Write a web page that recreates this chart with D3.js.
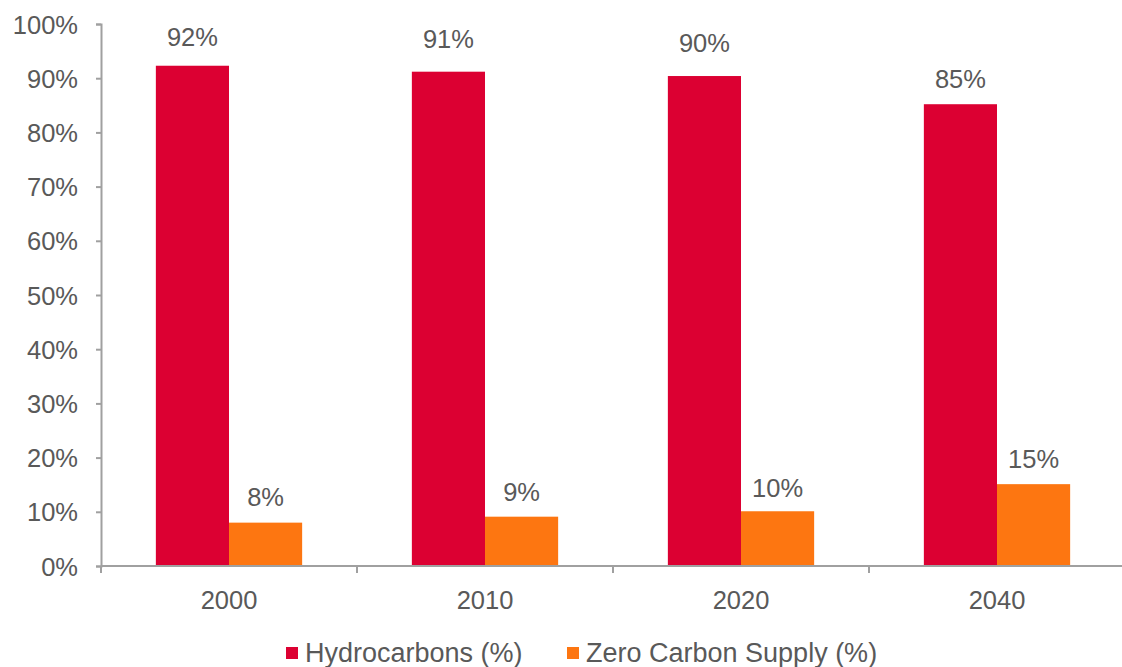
<!DOCTYPE html>
<html>
<head>
<meta charset="utf-8">
<script src="https://cdn.jsdelivr.net/npm/d3@7"></script>
<style>
  html, body { margin: 0; padding: 0; background: #fff; }
  svg { display: block; font-family: Arial, "Liberation Sans", sans-serif; }
</style>
</head>
<body>
<svg width="1122" height="667"></svg>
<script>
// chart data
const years = ['2000', '2010', '2020', '2040'];
const hydrocarbons = [92.3, 91.2, 90.4, 85.2];
const zeroCarbon = [8.0, 9.1, 10.1, 15.1];
const hydroLabels = ['92%', '91%', '90%', '85%'];
const zeroLabels = ['8%', '9%', '10%', '15%'];
const seriesNames = ['Hydrocarbons (%)', 'Zero Carbon Supply (%)'];
const yTicks = [0, 10, 20, 30, 40, 50, 60, 70, 80, 90, 100];

// layout / style
const colors = ['#dc0032', '#fd7611'];
const textColor = '#595959';
const axisColor = '#a0a0a0';
const fontSize = '25.5px';
const legendFont = '27px';
// gap between bar top and label baseline (labels were nudged by hand in the original)
const labelGap = [[20, 24, 24, 16], [17, 16, 14, 16]];

const svg = d3.select('svg');

const x = d3.scaleBand().domain(years).range([101, 1125]).paddingInner(0).paddingOuter(0);
const y = d3.scaleLinear().domain([0, 100]).range([566, 24]);
const inner = d3.scaleBand().domain([0, 1]).range([0, x.bandwidth()]).paddingOuter(0.75).paddingInner(0);

const series = [hydrocarbons, zeroCarbon];
const labels = [hydroLabels, zeroLabels];

// bars
series.forEach((vals, s) => {
  const g = svg.append('g');
  g.selectAll('rect')
    .data(years)
    .enter().append('rect')
      .attr('x', (d, i) => x(d) + inner(s))
      .attr('y', (d, i) => y(vals[i]))
      .attr('width', inner.bandwidth())
      .attr('height', (d, i) => y(0) - y(vals[i]))
      .attr('fill', colors[s]);

  g.selectAll('text')
    .data(years)
    .enter().append('text')
      .attr('x', (d, i) => x(d) + inner(s) + inner.bandwidth() / 2)
      .attr('y', (d, i) => y(vals[i]) - labelGap[s][i])
      .attr('text-anchor', 'middle')
      .attr('fill', textColor)
      .style('font-size', fontSize)
      .text((d, i) => labels[s][i]);
});

// y axis
const yAxis = svg.append('g')
  .attr('transform', 'translate(101,0)')
  .call(d3.axisLeft(y).tickValues(yTicks).tickSize(5).tickPadding(18).tickFormat(d => d + '%'));
yAxis.select('.domain').attr('stroke', axisColor).attr('stroke-width', 2);
yAxis.selectAll('.tick line').attr('stroke', axisColor).attr('stroke-width', 2);
yAxis.selectAll('.tick text')
  .attr('fill', textColor)
  .attr('dy', '0.36em')
  .style('font-size', fontSize)
  .style('font-family', 'Arial, "Liberation Sans", sans-serif');

// x axis line and ticks between categories
const xAxis = svg.append('g');
xAxis.append('line')
  .attr('x1', 101).attr('x2', 1125)
  .attr('y1', y(0)).attr('y2', y(0))
  .attr('stroke', axisColor).attr('stroke-width', 2);
const bounds = years.map(d => x(d)).concat([x(years[years.length - 1]) + x.bandwidth()]);
xAxis.selectAll('line.tk')
  .data(bounds)
  .enter().append('line')
    .attr('class', 'tk')
    .attr('x1', d => d).attr('x2', d => d)
    .attr('y1', y(0)).attr('y2', y(0) + 7)
    .attr('stroke', axisColor).attr('stroke-width', 2);
xAxis.selectAll('text')
  .data(years)
  .enter().append('text')
    .attr('x', d => x(d) + x.bandwidth() / 2)
    .attr('y', 609)
    .attr('text-anchor', 'middle')
    .attr('fill', textColor)
    .style('font-size', fontSize)
    .text(d => d);

// legend
const legendX = [286, 567];
const legend = svg.append('g');
seriesNames.forEach((name, s) => {
  legend.append('rect')
    .attr('x', legendX[s]).attr('y', 647)
    .attr('width', 12).attr('height', 12)
    .attr('fill', colors[s]);
  legend.append('text')
    .attr('x', legendX[s] + 19).attr('y', 662)
    .attr('fill', textColor)
    .style('font-size', legendFont)
    .text(name);
});
</script>
</body>
</html>
